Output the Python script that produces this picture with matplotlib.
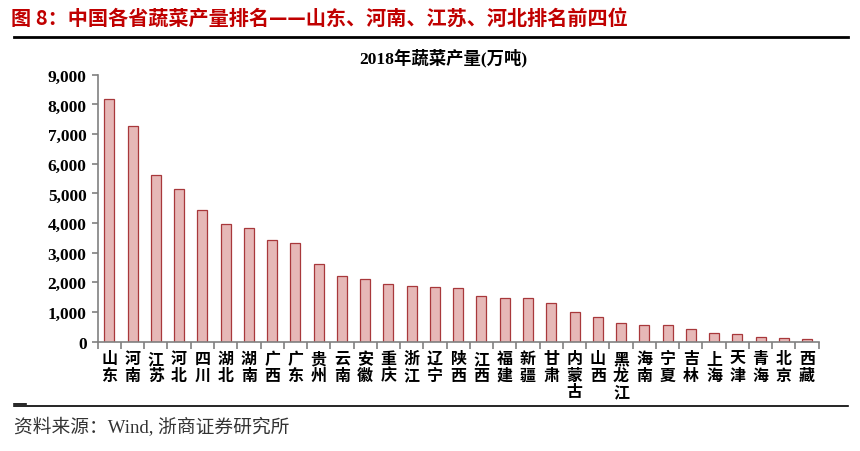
import matplotlib.pyplot as plt
from matplotlib.lines import Line2D
from matplotlib.ticker import FuncFormatter

# 2018 vegetable output by province (10k tonnes)
provinces = ["山东", "河南", "江苏", "河北", "四川", "湖北", "湖南", "广西", "广东", "贵州",
             "云南", "安徽", "重庆", "浙江", "辽宁", "陕西", "江西", "福建", "新疆", "甘肃",
             "内蒙古", "山西", "黑龙江", "海南", "宁夏", "吉林", "上海", "天津", "青海", "北京", "西藏"]
output = [8190, 7270, 5630, 5160, 4440, 3960, 3820, 3430, 3330, 2610,
          2200, 2120, 1930, 1890, 1850, 1810, 1530, 1490, 1460, 1290,
          1010, 820, 640, 570, 550, 440, 300, 250, 150, 140, 90]
yticks = [0, 1000, 2000, 3000, 4000, 5000, 6000, 7000, 8000, 9000]

serif_cjk = ["Liberation Serif", "Noto Sans CJK SC"]
sans_cjk = ["Noto Sans CJK SC", "DejaVu Sans"]

fig = plt.figure(figsize=(8.6, 4.52), dpi=100)
ax = fig.add_axes([0.1136, 0.2418, 0.952 - 0.1136, 0.8325 - 0.2418])

x = range(len(provinces))
ax.bar(x, output, width=0.43, color="#E6B8B7", edgecolor="#A8383B", linewidth=0.9)

ax.set_xlim(-0.5, len(provinces) - 0.5)
ax.set_ylim(0, 9000)
ax.set_yticks(yticks)
ax.yaxis.set_major_formatter(FuncFormatter(lambda v, p: f"{int(v):,}"))
for lab in ax.get_yticklabels():
    lab.set_family("Liberation Serif")
    lab.set_fontweight("bold")
    lab.set_fontsize(12.5)

# category boundaries carry the ticks, labels sit in the middle
ax.set_xticks([i - 0.5 for i in range(len(provinces) + 1)])
ax.set_xticklabels([])
ax.set_xticks(list(x), minor=True)
ax.set_xticklabels(["\n".join(p) for p in provinces], minor=True,
                   family=sans_cjk, fontweight="bold", fontsize=11.5, linespacing=1.05, va="top")
ax.tick_params(axis="x", which="minor", length=0, pad=6)
ax.tick_params(axis="x", which="major", length=5, color="#808080", width=1.2, direction="out")
ax.tick_params(axis="y", length=4, color="#808080", width=1.2, direction="out", pad=4)

for side in ["top", "right"]:
    ax.spines[side].set_visible(False)
for side in ["left", "bottom"]:
    ax.spines[side].set_color("#808080")
    ax.spines[side].set_linewidth(1.2)

fig.text(0.5151, 0.872, "2018年蔬菜产量(万吨)", ha="center", va="center",
         family=serif_cjk, fontweight="bold", fontsize=12.5)

fig.text(11 / 860, 1 - 18 / 452, "图 8：中国各省蔬菜产量排名——山东、河南、江苏、河北排名前四位",
         ha="left", va="center", color="#C00000", family=sans_cjk, fontweight="bold", fontsize=14.5)
fig.add_artist(Line2D([14 / 860, 848 / 860], [1 - 38 / 452] * 2, color="black", lw=2,
                      transform=fig.transFigure))

fig.add_artist(Line2D([14 / 860, 848 / 860], [1 - 407 / 452] * 2, color="black", lw=1.2,
                      transform=fig.transFigure))
fig.add_artist(Line2D([14 / 860, 26 / 860], [1 - 405 / 452] * 2, color="black", lw=1.2,
                      transform=fig.transFigure))
fig.text(14 / 860, 1 - 428 / 452, "资料来源：Wind, 浙商证券研究所", ha="left", va="center",
         color="#333333", family=serif_cjk, fontsize=13.5)

fig.savefig("out.png", dpi=100)
